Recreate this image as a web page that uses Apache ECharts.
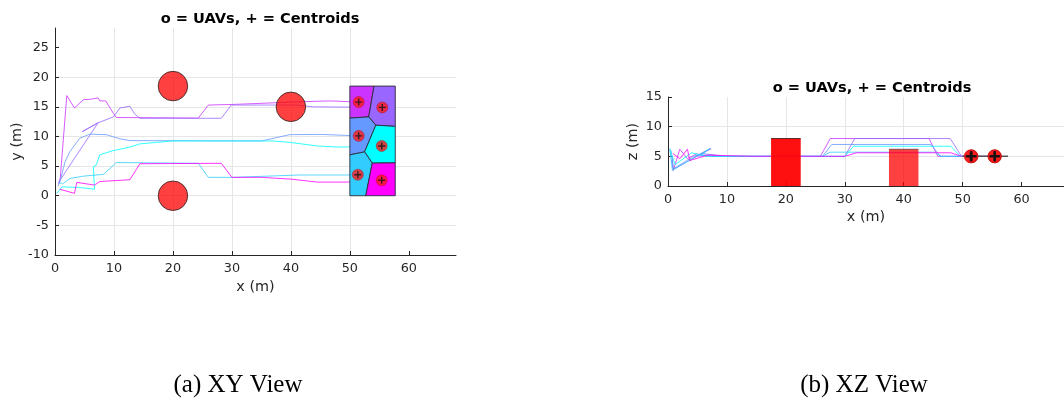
<!DOCTYPE html>
<html><head><meta charset="utf-8">
<script src="https://cdn.jsdelivr.net/npm/echarts@6/dist/echarts.min.js"></script>
<style>html,body{margin:0;padding:0;background:#fff}#c{width:1064px;height:402px}</style>
</head><body><div id="c"></div>
<script>
// ---- tick values ----
const xTicks = [0, 10, 20, 30, 40, 50, 60];
const yTicksXY = [-10, -5, 0, 5, 10, 15, 20, 25];
const zTicks = [0, 5, 10, 15];

// ---- UAV colours (cool colormap) and final positions ----
const uavColors = ['#cc33ff', '#9966ff', '#6699ff', '#00ffff', '#33ccff', '#ff00ff'];
const uavXY = [[51.5, 15.8], [55.5, 14.9], [51.5, 10.1], [55.4, 8.4], [51.35, 3.55], [55.4, 2.6]];
const uavXZ = [[51.5, 5], [55.5, 5], [51.5, 5], [55.4, 5], [51.35, 5], [55.4, 5]];

// ---- trajectories, XY view ----
const pathXY_purple = [[0.6,2.0],[0.9,3.0],[2.0,16.9],[3.3,14.8],[4.8,16.2],[6.2,16.3],[7.3,16.5],[7.6,16.0],[8.6,16.0],[9.9,13.9],[10.4,13.2],[24.3,13.1],[26.0,15.3],[30,15.4],[35.3,15.6],[40,15.8],[46.6,16.0],[51.5,15.8]];
const pathXY_lavender = [[0.7,2.2],[0.9,2.7],[7.3,12.3],[4.6,10.8],[7.3,12.3],[9.9,13.3],[11.0,14.8],[12.7,15.1],[13.5,13.8],[14.4,13.07],[28.2,13.07],[29.9,15.3],[41,15.3],[43.7,15.0],[55.5,14.9]];
const pathXY_blue = [[0.5,1.6],[0.9,2.6],[1.7,5.7],[2.5,7.4],[4.2,9.7],[5.9,10.4],[8.7,10.3],[11.0,9.6],[12.7,9.3],[35,9.24],[39.8,10.3],[45,10.35],[51.5,10.1]];
const pathXY_cyan = [[0.3,0.4],[1.2,1.5],[4.0,1.4],[6.7,1.1],[6.5,4.9],[7.0,5.2],[7.6,6.9],[9.8,7.6],[12.7,8.2],[14.4,8.75],[17.2,9.0],[20,9.24],[37,9.24],[39.8,9.0],[44.5,8.4],[48.2,8.2],[55.4,8.4]];
const pathXY_sky = [[0.6,2.3],[1.3,2.0],[2.5,2.9],[4.75,3.3],[8.2,3.6],[10.4,5.6],[24.3,5.47],[26.0,3.1],[30.2,3.1],[41.5,3.5],[49.4,3.5],[51.35,3.55]];
const pathXY_magenta = [[0.8,1.1],[3.3,0.4],[3.7,2.25],[6.7,1.8],[7.6,2.4],[12.7,2.7],[14.4,5.4],[28.2,5.47],[30.0,3.1],[35,3.1],[40,2.8],[44.5,2.3],[49.4,2.3],[55.4,2.6]];

// ---- trajectories, XZ view ----
const pathXZ_purple = [[0.6,4.4],[0.9,2.6],[2.0,6.2],[3.3,4.6],[4.8,5.4],[7.3,5.0],[25.85,5.0],[27.55,8.0],[44.3,8.0],[45.8,5.0],[51.5,5.0]];
const pathXZ_lavender = [[0.7,5.2],[0.9,2.8],[7.3,6.3],[4.6,5.0],[7.3,5.3],[9.9,5.0],[30.0,5.0],[31.7,8.0],[47.9,8.0],[49.8,5.0],[55.5,5.0]];
const pathXZ_blue = [[0.5,6.0],[0.9,2.9],[4.2,4.9],[5.9,5.5],[8.7,5.0],[26.2,5.0],[27.8,7.0],[44.6,7.0],[46.2,5.0],[51.5,5.0]];
const pathXZ_cyan = [[0.3,6.2],[1.2,3.6],[4.0,5.6],[6.7,5.0],[6.5,4.9],[7.6,5.0],[30.0,5.0],[31.5,6.7],[48,6.7],[49.6,5.0],[55.4,5.0]];
const pathXZ_sky = [[0.3,6.3],[0.75,2.65],[7.07,6.3],[5.5,5.1],[8.2,5.0],[26.2,5.0],[27.5,5.7],[45.2,5.7],[46.4,5.0],[51.35,5.0]];
const pathXZ_magenta = [[0.8,5.5],[2.0,4.6],[3.3,6.2],[3.7,4.3],[6.7,5.2],[14.4,5.0],[30.0,5.0],[32,5.6],[48,5.6],[49.8,5.0],[55.4,5.0]];

// ---- Voronoi cells of the goal region ----
const cell_purple = [[50,18.5],[54.1,18.5],[53.2,13.3],[50,13.1]];
const cell_lavender = [[54.1,18.5],[57.7,18.5],[57.7,11.7],[54.4,11.9],[53.2,13.3]];
const cell_blue = [[50,13.1],[53.2,13.3],[54.4,11.9],[52.5,7.4],[50,6.9]];
const cell_cyan = [[54.4,11.9],[57.7,11.7],[57.7,5.55],[53.8,5.5],[52.5,7.4]];
const cell_sky = [[50,6.9],[52.5,7.4],[53.8,5.5],[52.7,0],[50,0]];
const cell_magenta = [[53.8,5.5],[57.7,5.55],[57.7,0],[52.7,0]];

// ---- obstacles (cylinders): centre x, centre y, radius, height ----
const obstacles = [[20, 18.5, 2.5, 8], [40, 15, 2.5, 6.2], [20, 0, 2.5, 8]];
// goal region seen edge-on in XZ: [xmin, xmax] at altitude
const goalSpanX = [50, 57.7];
const goalAlt = 5;

const pathsXY = [pathXY_purple, pathXY_lavender, pathXY_blue, pathXY_cyan, pathXY_sky, pathXY_magenta];
const pathsXZ = [pathXZ_purple, pathXZ_lavender, pathXZ_blue, pathXZ_cyan, pathXZ_sky, pathXZ_magenta];
const cells = [cell_purple, cell_lavender, cell_blue, cell_cyan, cell_sky, cell_magenta];

const FONT = 'DejaVu Sans';
const AX = '#262626';
const GRIDC = '#e6e6e6';
const PLUS = 'path://M4,0h2v4h4v2h-4v4h-2v-4h-4v-2h4z';

function mkX(gi, max, nameGap) {
  return {
    type: 'value', gridIndex: gi, min: 0, max: max, interval: 10,
    name: 'x (m)', nameLocation: 'middle', nameGap: nameGap,
    nameTextStyle: {fontFamily: FONT, fontSize: 14.4, color: AX},
    axisLine: {show: true, onZero: false, lineStyle: {color: AX, width: 1}},
    axisTick: {show: true, inside: true, length: 4, customValues: xTicks, lineStyle: {color: AX}},
    axisLabel: {customValues: xTicks, margin: 7, fontFamily: FONT, fontSize: 12.8, color: AX},
    splitLine: {show: true, showMinLine: false, showMaxLine: false, lineStyle: {color: GRIDC, width: 1}}
  };
}
function mkY(gi, min, max, ticks, name, nameGap) {
  return {
    type: 'value', gridIndex: gi, min: min, max: max, interval: 5,
    name: name, nameLocation: 'middle', nameGap: nameGap, nameRotate: 90,
    nameTextStyle: {fontFamily: FONT, fontSize: 14.4, color: AX},
    axisLine: {show: true, onZero: false, lineStyle: {color: AX, width: 1}},
    axisTick: {show: true, inside: true, length: 4, customValues: ticks, lineStyle: {color: AX}},
    axisLabel: {customValues: ticks, margin: 6, fontFamily: FONT, fontSize: 12.8, color: AX},
    splitLine: {show: true, showMinLine: false, showMaxLine: false, lineStyle: {color: GRIDC, width: 1}}
  };
}

const series = [];
// trajectories
pathsXY.forEach((p, i) => series.push({
  type: 'line', xAxisIndex: 0, yAxisIndex: 0, data: p, showSymbol: false, z: 2,
  lineStyle: {color: uavColors[i], width: 1, opacity: 0.8}, silent: true
}));
pathsXZ.forEach((p, i) => series.push({
  type: 'line', xAxisIndex: 1, yAxisIndex: 1, data: p, showSymbol: false, z: 2,
  lineStyle: {color: uavColors[i], width: 1, opacity: 0.8}, silent: true
}));
// Voronoi cells
series.push({
  type: 'custom', xAxisIndex: 0, yAxisIndex: 0, z: 3, silent: true,
  data: cells.map((c, i) => [c[0][0], c[0][1], i]),
  renderItem: (params, api) => {
    const i = api.value(2);
    return {type: 'polygon', shape: {points: cells[i].map(pt => api.coord(pt))},
      style: {fill: uavColors[i], stroke: '#2a2a3a', lineWidth: 0.9}};
  }
});
// obstacles XY (circles)
series.push({
  type: 'custom', xAxisIndex: 0, yAxisIndex: 0, z: 4, silent: true,
  data: obstacles,
  renderItem: (params, api) => {
    const c = api.coord([api.value(0), api.value(1)]);
    const s = api.size([api.value(2), api.value(2)]);
    return {type: 'circle', shape: {cx: c[0], cy: c[1], r: s[0]},
      style: {fill: 'rgba(255,0,0,0.75)', stroke: '#3a2a2a', lineWidth: 0.9}};
  }
});
// obstacles XZ (side view rectangles)
series.push({
  type: 'custom', xAxisIndex: 1, yAxisIndex: 1, z: 4, silent: true,
  data: obstacles,
  renderItem: (params, api) => {
    const p0 = api.coord([api.value(0) - api.value(2), api.value(3)]);
    const p1 = api.coord([api.value(0) + api.value(2), 0]);
    return {type: 'group', children: [
      {type: 'rect', shape: {x: p0[0], y: p0[1], width: p1[0] - p0[0], height: p1[1] - p0[1]},
        style: {fill: 'rgba(255,0,0,0.75)'}},
      {type: 'line', shape: {x1: p0[0], y1: p0[1], x2: p1[0], y2: p0[1]},
        style: {stroke: 'rgba(40,40,40,0.6)', lineWidth: 1}}
    ]};
  }
});
// goal region edge-on in XZ
series.push({
  type: 'line', xAxisIndex: 1, yAxisIndex: 1, z: 5, showSymbol: false, silent: true,
  data: goalSpanX.map(x => [x, goalAlt]),
  lineStyle: {color: '#555', width: 1.5}
});
// UAV markers XY
series.push({type: 'scatter', xAxisIndex: 0, yAxisIndex: 0, z: 6, silent: true, data: uavXY,
  symbol: 'circle', symbolSize: 11, itemStyle: {color: '#ff1a1a', borderColor: '#b00000', borderWidth: 0.5}});
series.push({type: 'scatter', xAxisIndex: 0, yAxisIndex: 0, z: 7, silent: true, data: uavXY,
  symbol: PLUS, symbolSize: 7, itemStyle: {color: '#111'}});
// UAV markers XZ
series.push({type: 'scatter', xAxisIndex: 1, yAxisIndex: 1, z: 6, silent: true, data: uavXZ,
  symbol: 'circle', symbolSize: 13, itemStyle: {color: '#ff1a1a', borderColor: '#b00000', borderWidth: 0.5}});
series.push({type: 'scatter', xAxisIndex: 1, yAxisIndex: 1, z: 7, silent: true, data: uavXZ,
  symbol: PLUS, symbolSize: 10, itemStyle: {color: '#111'}});

const option = {
  animation: false,
  backgroundColor: '#fff',
  title: [
    {text: 'o = UAVs, + = Centroids', left: 255, top: 7, textAlign: 'center',
      textStyle: {fontFamily: FONT, fontSize: 14.6, fontWeight: 'bold', color: '#000'}},
    {text: 'o = UAVs, + = Centroids', left: 867, top: 76, textAlign: 'center',
      textStyle: {fontFamily: FONT, fontSize: 14.6, fontWeight: 'bold', color: '#000'}}
  ],
  grid: [
    {left: 55, top: 28, width: 401, height: 227},
    {left: 668, top: 97, width: 396, height: 89}
  ],
  xAxis: [mkX(0, 68, 24), mkX(1, 67.2, 24)],
  yAxis: [mkY(0, -10, 28.3, yTicksXY, 'y (m)', 31), mkY(1, 0, 15, zTicks, 'z (m)', 28)],
  graphic: [
    {type: 'text', style: {text: '(a) XY View', x: 238, y: 385, align: 'center', verticalAlign: 'middle',
      font: '25px "Liberation Serif"', fill: '#000'}},
    {type: 'text', style: {text: '(b) XZ View', x: 864, y: 385, align: 'center', verticalAlign: 'middle',
      font: '25px "Liberation Serif"', fill: '#000'}}
  ],
  series: series
};
const chart = echarts.init(document.getElementById('c'), null, {renderer: 'canvas'});
chart.setOption(option);
</script>
</body></html>
